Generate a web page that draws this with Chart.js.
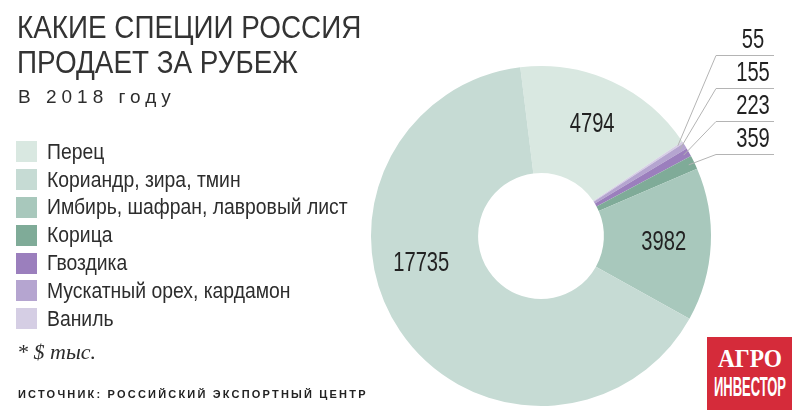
<!DOCTYPE html>
<html lang="ru">
<head>
<meta charset="utf-8">
<title>Какие специи Россия продает за рубеж</title>
<script src="https://cdn.jsdelivr.net/npm/chart.js@4.4.1/dist/chart.umd.min.js"></script>
<style>
  html, body { margin: 0; padding: 0; background: #fff; }
  #wrap {
    position: relative; width: 800px; height: 414px; overflow: hidden;
    font-family: "Liberation Sans", Arial, sans-serif;
    color: #2d2d2d;
  }
  #chart { position: absolute; left: 0; top: 0; }
  .t {
    position: absolute; left: 17px; white-space: nowrap; font-size: 32px; line-height: 32px;
    transform: scaleX(0.87); transform-origin: left top; color: #333;
  }
  .sub { position: absolute; left: 18px; top: 86px; font-size: 19px; letter-spacing: 5px; white-space: nowrap; }
  #legend { position: absolute; left: 16px; top: 138px; margin: 0; padding: 0; list-style: none; }
  #legend li { height: 27.8px; display: flex; align-items: center; font-size: 22px; white-space: nowrap; }
  #legend i { display: inline-block; width: 21px; height: 21px; margin-right: 10px; flex: none; }
  #legend span { display: inline-block; transform: scaleX(0.88); transform-origin: left center; }
  .note { position: absolute; left: 17px; top: 339px; font-family: "Liberation Serif", serif; font-style: italic; font-size: 22px; }
  .src { position: absolute; left: 18px; top: 388px; font-weight: bold; font-size: 11px; letter-spacing: 2.2px; color: #222; white-space: nowrap; }
  .logo {
    position: absolute; left: 707px; top: 337px; width: 85px; height: 73px; background: #d52b3a;
    color: #fff; overflow: hidden;
  }
  .logo div { position: absolute; left: 50%; white-space: nowrap; }
  .logo .a { top: 9px; font-family: "Liberation Serif", serif; font-weight: bold; font-size: 26px; line-height: 26px; transform: translateX(-50%) scaleX(0.9); }
  .logo .b { top: 37px; font-weight: bold; font-size: 27px; line-height: 27px; transform: translateX(-50%) scaleX(0.48); }
</style>
</head>
<body>
<div id="wrap">
  <canvas id="chart" width="800" height="414"></canvas>
  <div class="t" style="top:11px">КАКИЕ СПЕЦИИ РОССИЯ</div>
  <div class="t" style="top:46px">ПРОДАЕТ ЗА РУБЕЖ</div>
  <div class="sub">В 2018 году</div>
  <ul id="legend"></ul>
  <div class="note">* $ тыс.</div>
  <div class="src">ИСТОЧНИК: РОССИЙСКИЙ ЭКСПОРТНЫЙ ЦЕНТР</div>
  <div class="logo"><div class="a">АГРО</div><div class="b">ИНВЕСТОР</div></div>
</div>
<script>
"use strict";

// Legend order, as printed on the left
const CATEGORIES = [
  "Перец",
  "Кориандр, зира, тмин",
  "Имбирь, шафран, лавровый лист",
  "Корица",
  "Гвоздика",
  "Мускатный орех, кардамон",
  "Ваниль",
];
const VALUES = [4794, 17735, 3982, 359, 223, 155, 55]; // $ тыс.
const COLORS = ["#d9e8e1", "#c6dbd4", "#a8c8bc", "#7fab98", "#9b7fbd", "#b5a5d0", "#d5cee4"];

// The donut runs clockwise from Перец, then the rest in reverse legend order.
const DRAW_ORDER = [0, 6, 5, 4, 3, 2, 1];

function el(tag, cls, text) {
  const e = document.createElement(tag);
  if (cls) e.className = cls;
  if (text != null) e.textContent = text;
  return e;
}

function renderLegend() {
  const host = document.getElementById("legend");
  CATEGORIES.forEach((name, i) => {
    const li = el("li");
    const sw = el("i");
    sw.style.background = COLORS[i];
    li.appendChild(sw);
    li.appendChild(el("span", null, name));
    host.appendChild(li);
  });
}

// condensed numerals: regular sans squeezed horizontally
function drawNum(ctx, text, x, y) {
  ctx.save();
  ctx.translate(x, y);
  ctx.scale(0.72, 1);
  ctx.fillText(text, 0, 0);
  ctx.restore();
}

// Big values sit inside their slice; the small ones get leader lines to the right.
const sliceLabels = {
  id: "sliceLabels",
  afterDatasetsDraw(chart) {
    const ctx = chart.ctx;
    const arcs = chart.getDatasetMeta(0).data;
    const values = chart.data.datasets[0].data;
    ctx.save();
    ctx.fillStyle = "#222";
    ctx.font = '28px "Liberation Sans", sans-serif';
    ctx.textAlign = "center";
    let row = 0;
    arcs.forEach((arc, i) => {
      const p = arc.getProps(["x", "y", "startAngle", "endAngle", "innerRadius", "outerRadius"], true);
      const v = values[i];
      let mid = (p.startAngle + p.endAngle) / 2;
      if (v > 1000) {
        // the largest slice carries its label higher up, as in the original
        if (v > 10000) mid += 21 * Math.PI / 180;
        const r = p.innerRadius + (p.outerRadius - p.innerRadius) * 0.56;
        ctx.textBaseline = "middle";
        drawNum(ctx, String(v), p.x + Math.cos(mid) * r, p.y + Math.sin(mid) * r);
      } else {
        const r = p.outerRadius - 6;
        const x0 = p.x + Math.cos(mid) * r, y0 = p.y + Math.sin(mid) * r;
        const ly = chart.chartArea.top - 11 + row * 33;
        const lx = chart.chartArea.right + 5;
        ctx.strokeStyle = "#b4b4b4";
        ctx.lineWidth = 1;
        ctx.beginPath();
        ctx.moveTo(x0, y0);
        ctx.lineTo(lx, ly + 0.5);
        ctx.lineTo(lx + 58, ly + 0.5);
        ctx.stroke();
        ctx.textBaseline = "alphabetic";
        drawNum(ctx, String(v), lx + 37, ly - 7);
        row++;
      }
    });
    ctx.restore();
  },
};

function renderChart() {
  new Chart(document.getElementById("chart"), {
    type: "doughnut",
    data: {
      labels: DRAW_ORDER.map((i) => CATEGORIES[i]),
      datasets: [{
        data: DRAW_ORDER.map((i) => VALUES[i]),
        backgroundColor: DRAW_ORDER.map((i) => COLORS[i]),
        borderWidth: 0,
      }],
    },
    options: {
      responsive: false,
      animation: false,
      rotation: -7,
      cutout: "37%",
      layout: { padding: { left: 371, right: 89, top: 66, bottom: 8 } },
      plugins: { legend: { display: false }, tooltip: { enabled: false } },
    },
    plugins: [sliceLabels],
  });
}

renderLegend();
renderChart();
</script>
</body>
</html>
